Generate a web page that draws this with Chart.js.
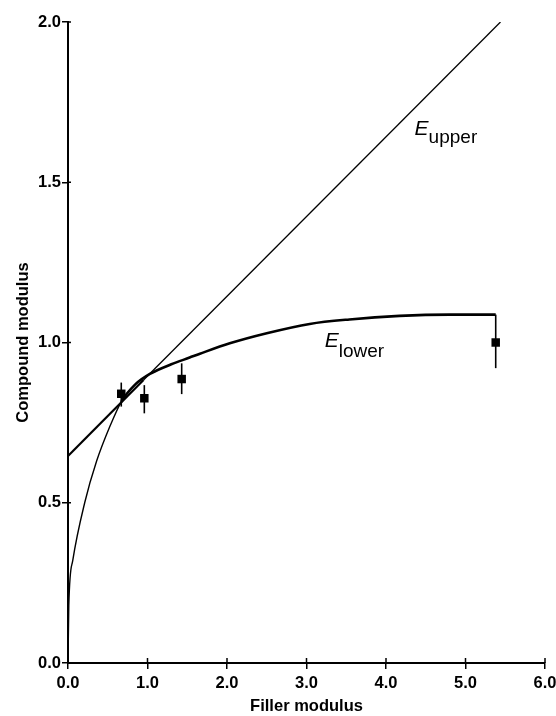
<!DOCTYPE html>
<html>
<head>
<meta charset="utf-8">
<script src="https://cdn.jsdelivr.net/npm/chart.js@4"></script>
<style>
  html, body { margin: 0; padding: 0; background: #fff; }
  #wrap { width: 556px; height: 716px; }
</style>
</head>
<body>
<div id="wrap"><canvas id="chart"></canvas></div>
<script>
// upper bound: straight line
const upperX = [0, 0.95, 5.44];
const upperY = [0.646, 0.883, 2.0];

// lower bound curve, read point by point
const lowerX = [0, 0.01, 0.06, 0.21, 0.36, 0.53, 0.67, 0.85, 1.03, 1.30, 1.53, 1.66, 2.035, 2.5, 3.04, 3.54, 4.17, 4.8, 5.38];
const lowerY = [0, 0.18, 0.32, 0.50, 0.63, 0.74, 0.815, 0.87, 0.902, 0.932, 0.953, 0.965, 0.9975, 1.029, 1.058, 1.072, 1.083, 1.087, 1.087];

// measured compounds with error bars
const measX = [0.67, 0.96, 1.43, 5.38];
const measY = [0.84, 0.826, 0.886, 1.0];
const measLow = [0.80, 0.779, 0.839, 0.92];
const measHigh = [0.875, 0.867, 0.935, 1.087];

const xTicks = [0, 1, 2, 3, 4, 5, 6];
const yTicks = [0, 0.5, 1.0, 1.5, 2.0];

const tickFont = { family: '"Liberation Sans", Arial, sans-serif', size: 16.5, weight: 'bold' };

const toPts = (xs, ys) => xs.map((x, i) => ({ x: x, y: ys[i] }));

const errorBars = {
    id: 'errorBars',
    afterDatasetsDraw(chart) {
        const { ctx, scales: { x, y } } = chart;
        ctx.save();
        ctx.strokeStyle = '#000';
        ctx.lineWidth = 1.6;
        for (let i = 0; i < measX.length; i++) {
            const px = x.getPixelForValue(measX[i]);
            ctx.beginPath();
            ctx.moveTo(px, y.getPixelForValue(measLow[i]));
            ctx.lineTo(px, y.getPixelForValue(measHigh[i]));
            ctx.stroke();
        }
        ctx.restore();
    }
};

// ticks crossing the axis lines, plus the curve labels
const extras = {
    id: 'extras',
    afterDraw(chart) {
        const { ctx, scales: { x, y } } = chart;
        ctx.save();
        ctx.strokeStyle = '#000';
        ctx.lineWidth = 1.5;
        const y0 = y.getPixelForValue(0);
        xTicks.forEach(v => {
            const px = x.getPixelForValue(v);
            ctx.beginPath();
            ctx.moveTo(px, y0);
            ctx.lineTo(px, y0 - 5);
            ctx.stroke();
        });
        const x0 = x.getPixelForValue(0);
        yTicks.forEach(v => {
            const py = y.getPixelForValue(v);
            ctx.beginPath();
            ctx.moveTo(x0, py);
            ctx.lineTo(x0 + 3, py);
            ctx.stroke();
        });

        ctx.fillStyle = '#000';
        ctx.textBaseline = 'alphabetic';
        ctx.textAlign = 'left';
        const label = (xv, yv, sub, dy) => {
            const px = x.getPixelForValue(xv);
            const py = y.getPixelForValue(yv);
            ctx.font = 'italic 21px "Liberation Sans", sans-serif';
            ctx.fillText('E', px, py);
            ctx.font = '19px "Liberation Sans", sans-serif';
            ctx.fillText(sub, px + 14, py + dy);
        };
        label(4.36, 1.647, 'upper', 8);
        label(3.23, 0.986, 'lower', 10);
        ctx.restore();
    }
};

new Chart(document.getElementById('chart'), {
    type: 'scatter',
    data: {
        datasets: [
            {
                label: 'E upper',
                type: 'line',
                data: toPts(upperX, upperY),
                borderColor: '#000',
                pointRadius: 0,
                borderWidth: 1.3,
                segment: {
                    borderWidth: c => c.p0.parsed.x < 0.95 ? 2.2 : 1.3
                }
            },
            {
                label: 'E lower',
                type: 'line',
                data: toPts(lowerX, lowerY),
                borderColor: '#000',
                pointRadius: 0,
                cubicInterpolationMode: 'monotone',
                borderWidth: 2.6,
                segment: {
                    borderWidth: c => c.p0.parsed.x < 0.67 ? 1.4 : 2.6
                }
            },
            {
                label: 'measured',
                data: toPts(measX, measY),
                pointStyle: 'rect',
                pointRadius: 6,
                pointBackgroundColor: '#000',
                pointBorderColor: '#000',
                borderWidth: 0
            }
        ]
    },
    options: {
        responsive: true,
        maintainAspectRatio: false,
        animation: false,
        layout: { padding: { top: 22, right: 11, left: 0, bottom: 0 } },
        plugins: {
            legend: { display: false },
            tooltip: { enabled: false }
        },
        scales: {
            x: {
                type: 'linear',
                min: 0,
                max: 6,
                afterBuildTicks: s => { s.ticks = xTicks.map(v => ({ value: v })); },
                afterFit: s => { s.height = 53; s.paddingLeft = 0; s.paddingRight = 0; },
                ticks: {
                    callback: v => v.toFixed(1),
                    color: '#000',
                    font: tickFont,
                    padding: 5,
                    maxRotation: 0
                },
                grid: { drawOnChartArea: false, tickLength: 6, color: '#000', lineWidth: 1.5 },
                border: { color: '#000', width: 2 },
                title: { display: true, text: 'Filler modulus', color: '#000', font: tickFont, padding: 0 }
            },
            y: {
                type: 'linear',
                min: 0,
                max: 2,
                afterBuildTicks: s => { s.ticks = yTicks.map(v => ({ value: v })); },
                afterFit: s => { s.width = 68; s.paddingTop = 0; s.paddingBottom = 0; },
                ticks: {
                    callback: v => v.toFixed(1),
                    color: '#000',
                    font: tickFont,
                    padding: 1
                },
                grid: { drawOnChartArea: false, tickLength: 6, color: '#000', lineWidth: 1.5 },
                border: { color: '#000', width: 2 },
                title: { display: true, text: 'Compound modulus', color: '#000', font: tickFont, padding: { top: 14, bottom: 0 } }
            }
        }
    },
    plugins: [errorBars, extras]
});
</script>
</body>
</html>
